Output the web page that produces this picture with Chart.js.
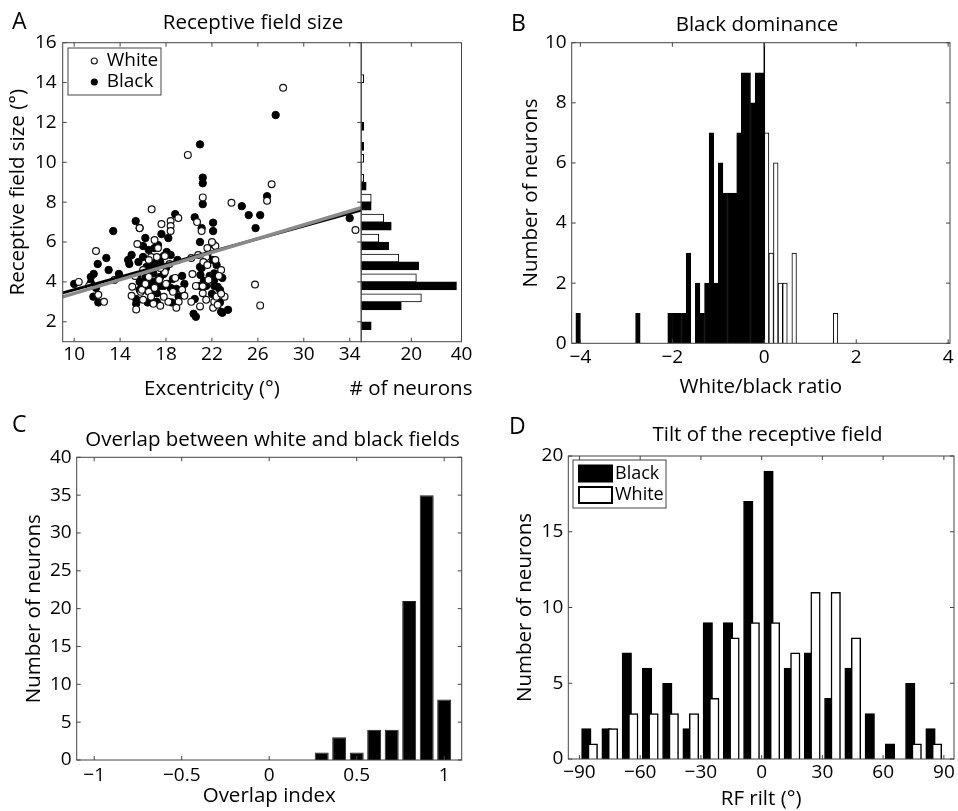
<!DOCTYPE html>
<html>
<head>
<meta charset="utf-8">
<title>Receptive fields</title>
<script src="https://cdn.jsdelivr.net/npm/chart.js@4.4.1/dist/chart.umd.min.js"></script>
<style>
  html, body { margin: 0; padding: 0; background: #fff; }
  #figure { position: relative; width: 958px; height: 811px; }
  #figure canvas { position: absolute; left: 0; top: 0; }
</style>
</head>
<body>
<div id="figure">
  <canvas id="rf-scatter" width="958" height="811"></canvas>
  <canvas id="rf-hist" width="958" height="811"></canvas>
  <canvas id="dominance" width="958" height="811"></canvas>
  <canvas id="overlap" width="958" height="811"></canvas>
  <canvas id="tilt" width="958" height="811"></canvas>
</div>
<script>
// ---- A: receptive field size against eccentricity, [ecc, size] per neuron
const whiteCells = [
  [19.9, 10.37], [28.2, 13.74], [27.2, 8.9], [26.8, 8.07], [23.7, 7.97], [21.2, 8.24],
  [16.75, 7.64], [19.07, 7.2], [18.4, 7.05], [17.6, 6.9], [18.4, 6.8], [15.7, 6.7],
  [20.7, 7.0], [21.1, 6.55], [18.4, 6.55], [11.9, 5.55], [10.4, 4.0], [21.6, 5.7],
  [22.3, 5.8], [20.8, 5.35], [21.5, 5.25], [22.3, 5.1], [21.25, 5.0], [21.6, 4.85],
  [16.7, 5.25], [17.2, 5.25], [16.5, 5.1], [17.3, 5.7], [17.9, 5.3], [17.9, 4.5],
  [17.5, 4.7], [16.5, 4.25], [15.06, 3.76], [12.1, 3.35], [15.8, 3.5], [16.5, 3.5],
  [16.7, 3.26], [18.2, 3.0], [18.6, 3.5], [19.1, 3.0], [15.4, 2.62], [20.6, 3.8],
  [21.2, 3.43], [21.2, 3.78], [20.96, 2.77], [22.1, 2.7], [22.2, 3.0], [22.4, 3.26],
  [23.1, 3.26], [22.5, 2.85], [25.75, 3.87], [26.2, 2.82], [15.9, 3.6], [15.5, 5.9],
  [34.5, 6.6], [17.0, 6.1], [22.0, 6.0], [18.3, 4.9], [16.0, 4.6], [22.8, 4.6],
  [20.2, 5.2], [16.2, 3.9], [17.4, 4.1], [17.0, 3.7], [18.0, 3.9], [18.8, 4.2],
  [15.3, 4.3], [21.7, 4.1], [22.6, 4.3], [20.3, 4.4], [11.3, 3.8], [13.5, 4.1],
  [19.4, 3.6], [16.0, 3.1], [17.5, 2.8], [17.8, 3.25], [18.9, 2.7], [15.0, 3.3],
  [21.5, 3.1], [22.8, 3.4], [20.2, 3.0], [16.9, 2.9], [19.6, 3.3], [12.6, 3.0]
];
const blackCells = [
  [27.55, 12.37], [20.96, 10.9], [21.2, 9.23], [21.2, 8.95], [21.2, 7.9], [24.6, 7.8],
  [25.2, 7.35], [26.2, 7.35], [26.8, 8.3], [25.8, 6.7], [18.8, 7.4], [20.5, 7.24],
  [15.36, 7.05], [22.1, 6.97], [13.4, 6.55], [15.7, 6.7], [22.1, 6.55], [21.1, 6.7],
  [17.6, 6.4], [18.2, 6.2], [16.2, 6.2], [20.96, 6.0], [22.1, 5.9], [16.0, 5.8],
  [17.3, 5.85], [18.06, 5.5], [16.5, 5.6], [17.0, 5.7], [15.0, 5.35], [14.7, 5.1],
  [12.8, 5.2], [12.05, 4.9], [14.8, 4.9], [16.0, 5.25], [17.8, 5.3], [18.4, 5.35],
  [16.9, 4.9], [17.5, 5.0], [20.96, 4.75], [21.25, 4.9], [22.1, 5.1], [19.4, 4.3],
  [11.7, 4.4], [11.45, 4.25], [10.0, 3.9], [11.45, 3.95], [11.67, 3.26], [12.1, 2.97],
  [15.7, 4.0], [15.7, 3.6], [15.4, 3.14], [16.4, 2.97], [16.9, 4.43], [17.5, 4.25],
  [16.9, 4.0], [17.5, 3.8], [17.2, 3.43], [17.8, 3.8], [18.4, 3.7], [17.2, 3.0],
  [16.7, 3.26], [18.9, 3.65], [19.1, 3.26], [18.5, 2.97], [21.1, 4.7], [20.96, 3.8],
  [21.5, 3.8], [22.2, 3.8], [22.2, 4.43], [22.2, 4.1], [22.9, 4.2], [22.7, 3.6],
  [22.0, 3.4], [20.5, 3.14], [20.4, 2.4], [20.6, 2.25], [22.7, 2.97], [22.8, 2.5],
  [23.4, 2.6], [15.4, 2.9], [34.0, 7.2], [15.9, 3.75], [16.2, 4.2], [16.6, 3.85],
  [17.0, 3.6], [17.3, 4.1], [17.8, 4.4], [18.1, 3.9], [18.6, 4.15], [16.4, 3.55],
  [15.5, 4.3], [21.3, 4.05], [21.8, 4.3], [22.5, 3.75], [21.0, 4.35], [11.9, 3.7],
  [13.9, 4.4], [19.6, 3.9], [16.3, 4.75], [17.1, 5.15], [18.0, 4.7], [15.6, 5.0],
  [21.6, 5.35], [22.4, 4.85], [13.0, 4.6], [19.0, 5.1], [22.9, 2.45]
];
// regression lines, end points at the axis limits
const whiteFit = [[9, 3.25], [35, 7.72]];
const blackFit = [[9, 3.45], [35, 7.6]];
// marginal histogram of RF size, 1 deg bins
const sizeBins = [2, 3, 4, 5, 6, 7, 8, 9, 10, 11, 12, 13, 14];
const sizeCountWhite = [0, 24, 22, 15, 7, 9, 4, 1, 1, 0, 0, 0, 1];
const sizeCountBlack = [4, 16, 38, 23, 11, 12, 4, 2, 0, 1, 1, 0, 0];
const eccTicks = [10, 14, 18, 22, 26, 30, 34];
const sizeTicks = [2, 4, 6, 8, 10, 12, 14, 16];
const histTicks = [20, 40];

// ---- B: white/black ratio, 0.1 wide bins
const ratioBinsBlack = [-4.05, -2.75, -2.05, -1.95, -1.85, -1.75, -1.65, -1.45, -1.35, -1.25, -1.15,
  -1.05, -0.95, -0.85, -0.75, -0.65, -0.55, -0.45, -0.35, -0.25, -0.15, -0.05];
const ratioCountBlack = [1, 1, 1, 1, 1, 1, 3, 2, 1, 2, 7, 2, 6, 5, 5, 5, 7, 9, 9, 8, 9, 9];
const ratioBinsWhite = [0.05, 0.15, 0.25, 0.35, 0.45, 0.65, 1.55];
const ratioCountWhite = [7, 3, 6, 2, 2, 3, 1];
const ratioZero = [[0, 0], [0, 10]];
const ratioTicks = [-4, -2, 0, 2, 4];
const countTicksB = [0, 2, 4, 6, 8, 10];

// ---- C: overlap index
const overlapBins = [0.3, 0.4, 0.5, 0.6, 0.7, 0.8, 0.9, 1.0];
const overlapCount = [1, 3, 1, 4, 4, 21, 35, 8];
const overlapTicks = [-1, -0.5, 0, 0.5, 1];
const countTicksC = [0, 5, 10, 15, 20, 25, 30, 35, 40];

// ---- D: RF tilt, 10 deg bins
const tiltBins = [-85, -75, -65, -55, -45, -35, -25, -15, -5, 5, 15, 25, 35, 45, 55, 65, 75, 85];
const tiltCountBlack = [2, 2, 7, 6, 5, 2, 9, 9, 17, 19, 6, 7, 4, 6, 3, 1, 5, 2];
const tiltCountWhite = [1, 2, 3, 3, 3, 3, 4, 8, 9, 9, 7, 11, 11, 8, 0, 0, 1, 1];
const tiltTicks = [-90, -60, -30, 0, 30, 60, 90];
const countTicksD = [0, 5, 10, 15, 20];

const FONT = '"Open Sans", sans-serif';
const INK = '#000';
const FRAME = '#444';
const TICK_SIZE = 19;
const LABEL_SIZE = 20.5;
const PAGE_W = 958, PAGE_H = 811;

function toXY(pairs) {
  return pairs.map(([x, y]) => ({ x, y }));
}

function minusSign(v) {
  return String(v).replace('-', '\u2212');
}

// chart area placed at (L,T)-(R,B) on the page; yw / xh are the axis strip sizes
function place(L, T, R, B, yw, xh) {
  return { padding: { left: L - yw, top: T, right: PAGE_W - R, bottom: PAGE_H - B - xh } };
}

function axis(o) {
  return {
    type: 'linear',
    position: o.position,
    min: o.min,
    max: o.max,
    offset: false,
    afterBuildTicks: s => { s.ticks = o.ticks.map(v => ({ value: v })); },
    afterFit: s => { if (s.isHorizontal()) s.height = o.size; else s.width = o.size; },
    grid: { display: false, drawTicks: false },
    border: { display: false },
    ticks: {
      display: o.labels !== false,
      autoSkip: false,
      maxRotation: 0,
      padding: o.pad || 0,
      color: INK,
      font: { family: FONT, size: TICK_SIZE },
      callback: minusSign
    },
    title: {
      display: !!o.title,
      text: o.title,
      color: INK,
      font: { family: FONT, size: LABEL_SIZE },
      padding: o.titlePad || 0
    }
  };
}

// MATLAB style box with inward ticks
const boxAxes = {
  id: 'boxAxes',
  afterDatasetsDraw(chart, args, opts) {
    const { ctx, chartArea: a, scales } = chart;
    const len = 4;
    ctx.save();
    ctx.strokeStyle = FRAME;
    ctx.lineWidth = 1;
    ctx.beginPath();
    if (opts.xTicks !== false) {
      for (const t of scales.x.ticks) {
        const px = scales.x.getPixelForValue(t.value);
        ctx.moveTo(px, a.bottom); ctx.lineTo(px, a.bottom - len);
        ctx.moveTo(px, a.top); ctx.lineTo(px, a.top + len);
      }
    }
    if (opts.yTicks !== false) {
      for (const t of scales.y.ticks) {
        const py = scales.y.getPixelForValue(t.value);
        ctx.moveTo(a.left, py); ctx.lineTo(a.left + len, py);
        ctx.moveTo(a.right, py); ctx.lineTo(a.right - len, py);
      }
    }
    ctx.stroke();
    ctx.strokeRect(a.left, a.top, a.right - a.left, a.bottom - a.top);
    ctx.restore();
  }
};

// free text: panel letters, panel titles, captions wider than their axis
const panelText = {
  id: 'panelText',
  afterDraw(chart, args, opts) {
    if (!opts.texts) return;
    const { ctx } = chart;
    ctx.save();
    ctx.fillStyle = INK;
    for (const t of opts.texts) {
      ctx.font = `${t.size || LABEL_SIZE}px ${FONT}`;
      ctx.textAlign = t.align || 'center';
      ctx.textBaseline = t.baseline || 'alphabetic';
      ctx.fillText(t.text, t.x, t.y);
    }
    ctx.restore();
  }
};

// boxed legend inside the axes, entries taken from the datasets
const boxLegend = {
  id: 'boxLegend',
  afterDraw(chart, args, opts) {
    if (!opts.items) return;
    const { ctx } = chart;
    ctx.save();
    ctx.fillStyle = '#fff';
    ctx.fillRect(opts.x, opts.y, opts.w, opts.h);
    ctx.strokeStyle = FRAME;
    ctx.lineWidth = 1;
    ctx.strokeRect(opts.x, opts.y, opts.w, opts.h);
    ctx.font = `${opts.fontSize}px ${FONT}`;
    ctx.textBaseline = 'middle';
    ctx.textAlign = 'left';
    opts.items.forEach((idx, i) => {
      const ds = chart.data.datasets[idx];
      const cy = opts.y + opts.firstRow + i * opts.rowGap;
      if (opts.marker) {
        ctx.beginPath();
        ctx.arc(opts.markX, cy, opts.marker, 0, Math.PI * 2);
        ctx.fillStyle = ds.pointBackgroundColor;
        ctx.fill();
        ctx.lineWidth = 1.1;
        ctx.strokeStyle = ds.pointBorderColor;
        ctx.stroke();
      } else {
        ctx.fillStyle = ds.backgroundColor;
        ctx.fillRect(opts.markX, cy - 8, 33, 16);
        ctx.lineWidth = 2;
        ctx.strokeStyle = '#000';
        ctx.strokeRect(opts.markX, cy - 8, 33, 16);
      }
      ctx.fillStyle = INK;
      ctx.fillText(ds.label, opts.textX, cy);
    });
    ctx.restore();
  }
};

const common = { responsive: false, animation: false, devicePixelRatio: 1, events: [] };
const quiet = { legend: { display: false }, tooltip: { enabled: false } };

function heading(letter, lx, ly, title, tx, ty) {
  return [
    { text: letter, x: lx, y: ly, size: 23, align: 'left' },
    { text: title, x: tx, y: ty }
  ];
}

// A: scatter of RF size against eccentricity
new Chart(document.getElementById('rf-scatter'), {
  type: 'scatter',
  data: {
    datasets: [
      { type: 'line', label: 'White fit', data: toXY(whiteFit), borderColor: '#8a8a8a', borderWidth: 3.5, pointRadius: 0 },
      { type: 'line', label: 'Black fit', data: toXY(blackFit), borderColor: '#000', borderWidth: 3, pointRadius: 0 },
      { label: 'White', data: toXY(whiteCells), pointRadius: 3.4, pointBackgroundColor: '#fff', pointBorderColor: '#111', pointBorderWidth: 1.2 },
      { label: 'Black', data: toXY(blackCells), pointRadius: 3.7, pointBackgroundColor: '#000', pointBorderColor: '#000', pointBorderWidth: 1 }
    ]
  },
  options: {
    ...common,
    layout: place(62.7, 42.7, 361.2, 341.7, 62.7, 60),
    scales: {
      x: axis({ position: 'bottom', min: 9, max: 35, ticks: eccTicks, size: 60, pad: 1.7, title: 'Excentricity (\u00b0)', titlePad: { top: 0, bottom: 0 } }),
      y: axis({ position: 'left', min: 1, max: 16, ticks: sizeTicks, size: 62.7, pad: 6, title: 'Receptive field size (\u00b0)', titlePad: { top: 5.7, bottom: 0 } })
    },
    plugins: {
      ...quiet,
      boxAxes: {},
      panelText: { texts: heading('A', 12, 28.5, 'Receptive field size', 253, 28.5) },
      boxLegend: { items: [2, 3], x: 68, y: 48, w: 93, h: 47, firstRow: 13, rowGap: 21, marker: 3, markX: 94.3, textX: 106.7, fontSize: 19 }
    }
  },
  plugins: [boxAxes, panelText, boxLegend]
});

// A: marginal histogram of RF size
new Chart(document.getElementById('rf-hist'), {
  type: 'bar',
  data: {
    datasets: [
      {
        label: 'White',
        data: sizeBins.map((b, i) => ({ x: sizeCountWhite[i], y: b + 0.2 })).filter(p => p.x > 0),
        backgroundColor: '#fff', borderColor: '#000', borderWidth: 1, grouped: false, barThickness: 8
      },
      {
        label: 'Black',
        data: sizeBins.map((b, i) => ({ x: sizeCountBlack[i], y: b - 0.2 })).filter(p => p.x > 0),
        backgroundColor: '#000', borderColor: '#000', borderWidth: 1, grouped: false, barThickness: 8
      }
    ]
  },
  options: {
    ...common,
    indexAxis: 'y',
    layout: place(361.2, 42.7, 461.5, 341.7, 0, 60),
    scales: {
      x: axis({ position: 'bottom', min: 0, max: 40, ticks: histTicks, size: 60, pad: 1.7 }),
      y: axis({ position: 'left', min: 1, max: 16, ticks: sizeTicks, size: 0, labels: false })
    },
    plugins: {
      ...quiet,
      boxAxes: { yTicks: false },
      // caption is wider than this narrow axis, so it is drawn freely
      panelText: { texts: [{ text: '# of neurons', x: 411, y: 389.4, baseline: 'middle' }] }
    }
  },
  plugins: [boxAxes, panelText]
});

// B: black dominance
new Chart(document.getElementById('dominance'), {
  type: 'bar',
  data: {
    datasets: [
      { type: 'line', label: 'Zero', data: toXY(ratioZero), borderColor: '#000', borderWidth: 1.5, pointRadius: 0 },
      {
        label: 'Black',
        data: ratioBinsBlack.map((b, i) => ({ x: b, y: ratioCountBlack[i] })),
        backgroundColor: '#000', borderColor: '#000', borderWidth: 1,
        grouped: false, barPercentage: 1, categoryPercentage: 1
      },
      {
        label: 'White',
        data: ratioBinsWhite.map((b, i) => ({ x: b, y: ratioCountWhite[i] })),
        backgroundColor: '#fff', borderColor: '#000', borderWidth: 1,
        grouped: false, barPercentage: 1, categoryPercentage: 1
      }
    ]
  },
  options: {
    ...common,
    layout: place(571.7, 42.7, 950, 343.3, 60, 60),
    scales: {
      x: axis({ position: 'bottom', min: -4.19, max: 4.04, ticks: ratioTicks, size: 60, pad: 2.4, title: 'White/black ratio', titlePad: { top: 0, bottom: 4 } }),
      y: axis({ position: 'left', min: 0, max: 10, ticks: countTicksB, size: 60, pad: 5, title: 'Number of neurons', titlePad: { top: 7, bottom: 0 } })
    },
    plugins: {
      ...quiet,
      boxAxes: {},
      panelText: { texts: heading('B', 511, 31, 'Black dominance', 757, 31) }
    }
  },
  plugins: [boxAxes, panelText]
});

// C: overlap between white and black fields
new Chart(document.getElementById('overlap'), {
  type: 'bar',
  data: {
    datasets: [{
      label: 'Neurons',
      data: overlapBins.map((b, i) => ({ x: b, y: overlapCount[i] })),
      backgroundColor: '#000', borderColor: '#222', borderWidth: 1,
      barPercentage: 0.8, categoryPercentage: 1
    }]
  },
  options: {
    ...common,
    layout: place(76.7, 457.3, 461.7, 760, 60, 48),
    scales: {
      x: axis({ position: 'bottom', min: -1.1, max: 1.1, ticks: overlapTicks, size: 48, pad: 4.2, title: 'Overlap index', titlePad: { top: 0, bottom: 0 } }),
      y: axis({ position: 'left', min: 0, max: 40, ticks: countTicksC, size: 60, pad: 5, title: 'Number of neurons', titlePad: { top: 5, bottom: 0 } })
    },
    plugins: {
      ...quiet,
      boxAxes: {},
      panelText: { texts: heading('C', 12, 432, 'Overlap between white and black fields', 272.5, 445.5) }
    }
  },
  plugins: [boxAxes, panelText]
});

// D: tilt of the receptive field, black and white bars per bin
new Chart(document.getElementById('tilt'), {
  type: 'bar',
  data: {
    datasets: [
      {
        label: 'White',
        data: tiltBins.map((b, i) => ({ x: b + 1.6, y: tiltCountWhite[i] })).filter(p => p.y > 0),
        backgroundColor: '#fff', borderColor: '#000', borderWidth: 1.5,
        grouped: false, barThickness: 9.5
      },
      {
        label: 'Black',
        data: tiltBins.map((b, i) => ({ x: b - 1.6, y: tiltCountBlack[i] })),
        backgroundColor: '#000', borderColor: '#000', borderWidth: 1,
        grouped: false, barThickness: 9.5
      }
    ]
  },
  options: {
    ...common,
    layout: place(568.3, 456, 954, 759, 60, 52),
    scales: {
      x: axis({ position: 'bottom', min: -95.5, max: 95, ticks: tiltTicks, size: 52, pad: 1.7, title: 'RF rilt (\u00b0)', titlePad: { top: 0, bottom: 0 } }),
      y: axis({ position: 'left', min: 0, max: 20, ticks: countTicksD, size: 60, pad: 5, title: 'Number of neurons', titlePad: { top: 4.4, bottom: 0 } })
    },
    plugins: {
      ...quiet,
      boxAxes: {},
      panelText: { texts: heading('D', 509, 434, 'Tilt of the receptive field', 767.5, 441) },
      boxLegend: { items: [1, 0], x: 573, y: 460, w: 93, h: 48, firstRow: 13.5, rowGap: 21.5, markX: 579, textX: 615, fontSize: 18 }
    }
  },
  plugins: [boxAxes, panelText, boxLegend]
});
</script>
</body>
</html>
